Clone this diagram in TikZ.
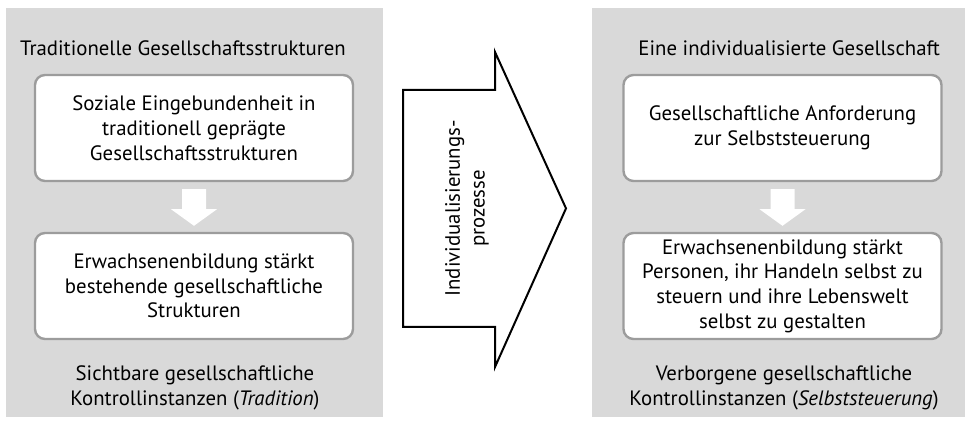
\documentclass[tikz,border=0pt]{standalone}
\usepackage{fontspec}
\setmainfont{PT Sans}
\usetikzlibrary{calc}
\definecolor{panelgray}{HTML}{D9D9D9}
\definecolor{framegray}{HTML}{9C9C9C}
\tikzset{
	stufe/.style={draw=framegray, line width=0.6mm, fill=white, rounded corners=0.25cm, minimum width=7.95cm, minimum height=2.65cm, align=center, font=\fontsize{14.8}{17.6}\selectfont},
	titel/.style={align=center, font=\fontsize{14.8}{17.6}\selectfont}
}
\def\weiterpfeil(#1)(#2){\fill[white] ($(#1.south)+(-0.3,-0.175)$) -- ($(#1.south)+(0.3,-0.175)$) -- ($(#1.south)+(0.3,-0.675)$) -- ($(#1.south)+(0.575,-0.675)$) -- ($(#2.north)+(0,0.15)$) -- ($(#1.south)+(-0.575,-0.675)$) -- ($(#1.south)+(-0.3,-0.675)$) -- cycle;}

\begin{document}
\begin{tikzpicture}
			%%%%% START %%%%%
			\useasboundingbox (0, 0) rectangle (24.275, 10.65);
			
			\fill[panelgray] (0.15, 0.225) rectangle (9.575, 10.45);
			\fill[panelgray] (14.8, 0.225) rectangle (24.125, 10.45);
			
			%% links
			\node[titel] (linkstitel) at (4.575, 9.45) {Traditionelle Gesellschaftsstrukturen};
			\node[stufe] (links1) at (4.85, 7.45) {Soziale Eingebundenheit in\\traditionell geprägte\\Gesellschaftsstrukturen};
			\node[stufe] (links2) at (4.85, 3.5) {Erwachsenenbildung stärkt\\bestehende gesellschaftliche\\Strukturen};
			\node[titel] (linksfuss) at (4.875, 0.95) {Sichtbare gesellschaftliche\\Kontrollinstanzen (\textit{Tradition})};
			\weiterpfeil(links1)(links2);
			
			%% mitte
			\draw[line width=0.5mm, fill=white] (10.075, 8.4) -- (12.375, 8.4) -- (12.375, 9.35) -- (14.15, 5.44) -- (12.375, 1.475) -- (12.375, 2.475) -- (10.075, 2.475) -- cycle;
			\node[titel, rotate=90] (prozess) at (11.675, 5.44) {Individualisierungs-\\prozesse};
			
			%% rechts
			\node[titel] (rechtstitel) at (19.73, 9.45) {Eine individualisierte Gesellschaft};
			\node[stufe] (rechts1) at (19.5625, 7.45) {Gesellschaftliche Anforderung\\zur Selbststeuerung};
			\node[stufe] (rechts2) at (19.5625, 3.5) {Erwachsenenbildung stärkt\\Personen, ihr Handeln selbst zu\\steuern und ihre Lebenswelt\\selbst zu gestalten};
			\node[titel] (rechtsfuss) at (19.6, 0.95) {Verborgene gesellschaftliche\\Kontrollinstanzen (\textit{Selbststeuerung})};
			\weiterpfeil(rechts1)(rechts2);
			
			%%%%% END %%%%%
\end{tikzpicture}
\end{document}
